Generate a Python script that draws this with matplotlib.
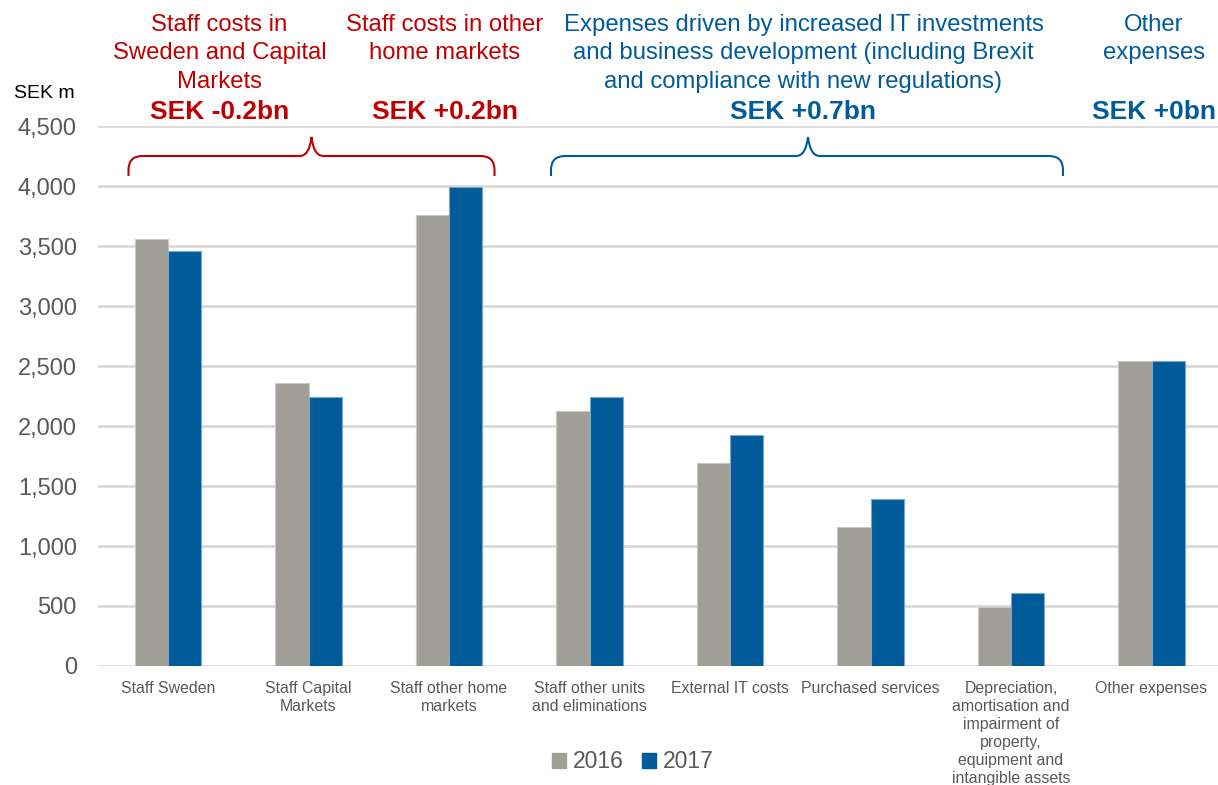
import numpy as np
import matplotlib.pyplot as plt
from matplotlib.path import Path
from matplotlib.patches import PathPatch, Patch

plt.rcParams['font.family'] = ['Liberation Sans', 'DejaVu Sans']

categories = ['Staff Sweden', 'Staff Capital\nMarkets', 'Staff other home\nmarkets',
              'Staff other units\nand eliminations', 'External IT costs',
              'Purchased services',
              'Depreciation,\namortisation and\nimpairment of\nproperty,\nequipment and\nintangible assets',
              'Other expenses']
v2016 = [3556, 2356, 3758, 2122, 1689, 1156, 489, 2539]
v2017 = [3456, 2239, 3992, 2239, 1925, 1389, 606, 2539]
yticks = [0, 500, 1000, 1500, 2000, 2500, 3000, 3500, 4000, 4500]

grey = '#A09F97'
blue = '#005B9A'
red = '#C00000'
txt = '#595959'

fig = plt.figure(figsize=(12.18, 7.85), dpi=100)
ax = fig.add_axes([97.75 / 1218, 1 - 666 / 785, 1124 / 1218, 540 / 785])

x = np.arange(len(categories))
w = 0.235
ax.bar(x - w / 2, v2016, w, color=grey, edgecolor='#c9c8c2', linewidth=0.8, zorder=3)
ax.bar(x + w / 2, v2017, w, color=blue, edgecolor='#7fa6c8', linewidth=0.8, zorder=3)

ax.set_xlim(-0.5, len(categories) - 0.5)
ax.set_ylim(0, 4500)
ax.set_yticks(yticks)
ax.set_yticklabels([f'{t:,}' for t in yticks], fontsize=17, color=txt)
ax.yaxis.grid(True, color='#d9d9d9', linewidth=2)
ax.set_axisbelow(True)
for s in ax.spines.values():
    s.set_visible(False)
ax.tick_params(axis='y', length=0, pad=15)
ax.set_xticks([])

# category labels under the bars
for i, c in enumerate(categories):
    ax.text(i, -128, c, ha='center', va='top', fontsize=11.4, color=txt,
            linespacing=1.24, clip_on=False)

fig.text(13.5 / 1218, 1 - 94 / 785, 'SEK m', fontsize=14, color='black', va='center')

# group headings
def heading(xc, lines, amount, color):
    fig.text(xc / 1218, 1 - 14 / 785, lines, fontsize=17.2, color=color,
             ha='center', va='top', linespacing=1.38)
    fig.text(xc / 1218, 1 - 112 / 785, amount, fontsize=19, color=color,
             ha='center', va='center', fontweight='bold')

heading(219.5, 'Staff costs in\nSweden and Capital\nMarkets', 'SEK -0.2bn', red)
heading(444.5, 'Staff costs in other\nhome markets', 'SEK +0.2bn', red)
heading(803.5, 'Expenses driven by increased IT investments\nand business development (including Brexit\nand compliance with new regulations)', 'SEK +0.7bn', blue)
heading(1154, 'Other\nexpenses', 'SEK +0bn', blue)

# curly brackets over the groups
def brace(x0, x1, xm, color):
    H = 785
    yb, yh, yt = H - 176, H - 156, H - 137
    r = 14
    verts = [(x0, yb), (x0, yh - r), (x0, yh), (x0 + r, yh),
             (xm - 12, yh), (xm - 2, yh), (xm, yt),
             (xm + 2, yh), (xm + 12, yh),
             (x1 - r, yh), (x1, yh), (x1, yh - r), (x1, yb)]
    codes = [Path.MOVETO, Path.LINETO, Path.CURVE3, Path.CURVE3,
             Path.LINETO, Path.CURVE3, Path.CURVE3,
             Path.CURVE3, Path.CURVE3,
             Path.LINETO, Path.CURVE3, Path.CURVE3, Path.LINETO]
    verts = [(vx / 1218, vy / H) for vx, vy in verts]
    p = PathPatch(Path(verts, codes), facecolor='none', edgecolor=color,
                  linewidth=1.5, transform=fig.transFigure)
    fig.patches.append(p)

brace(128.5, 494.5, 311.5, red)
brace(551, 1063, 808, blue)

handles = [Patch(color=grey), Patch(color=blue)]
fig.legend(handles, ['2016', '2017'], loc='center', bbox_to_anchor=(633 / 1218, 1 - 762 / 785),
           ncol=2, frameon=False, fontsize=16.5, labelcolor=txt, handlelength=0.6,
           handleheight=0.6, handletextpad=0.3, columnspacing=0.8)

fig.savefig('out.png', dpi=100)
